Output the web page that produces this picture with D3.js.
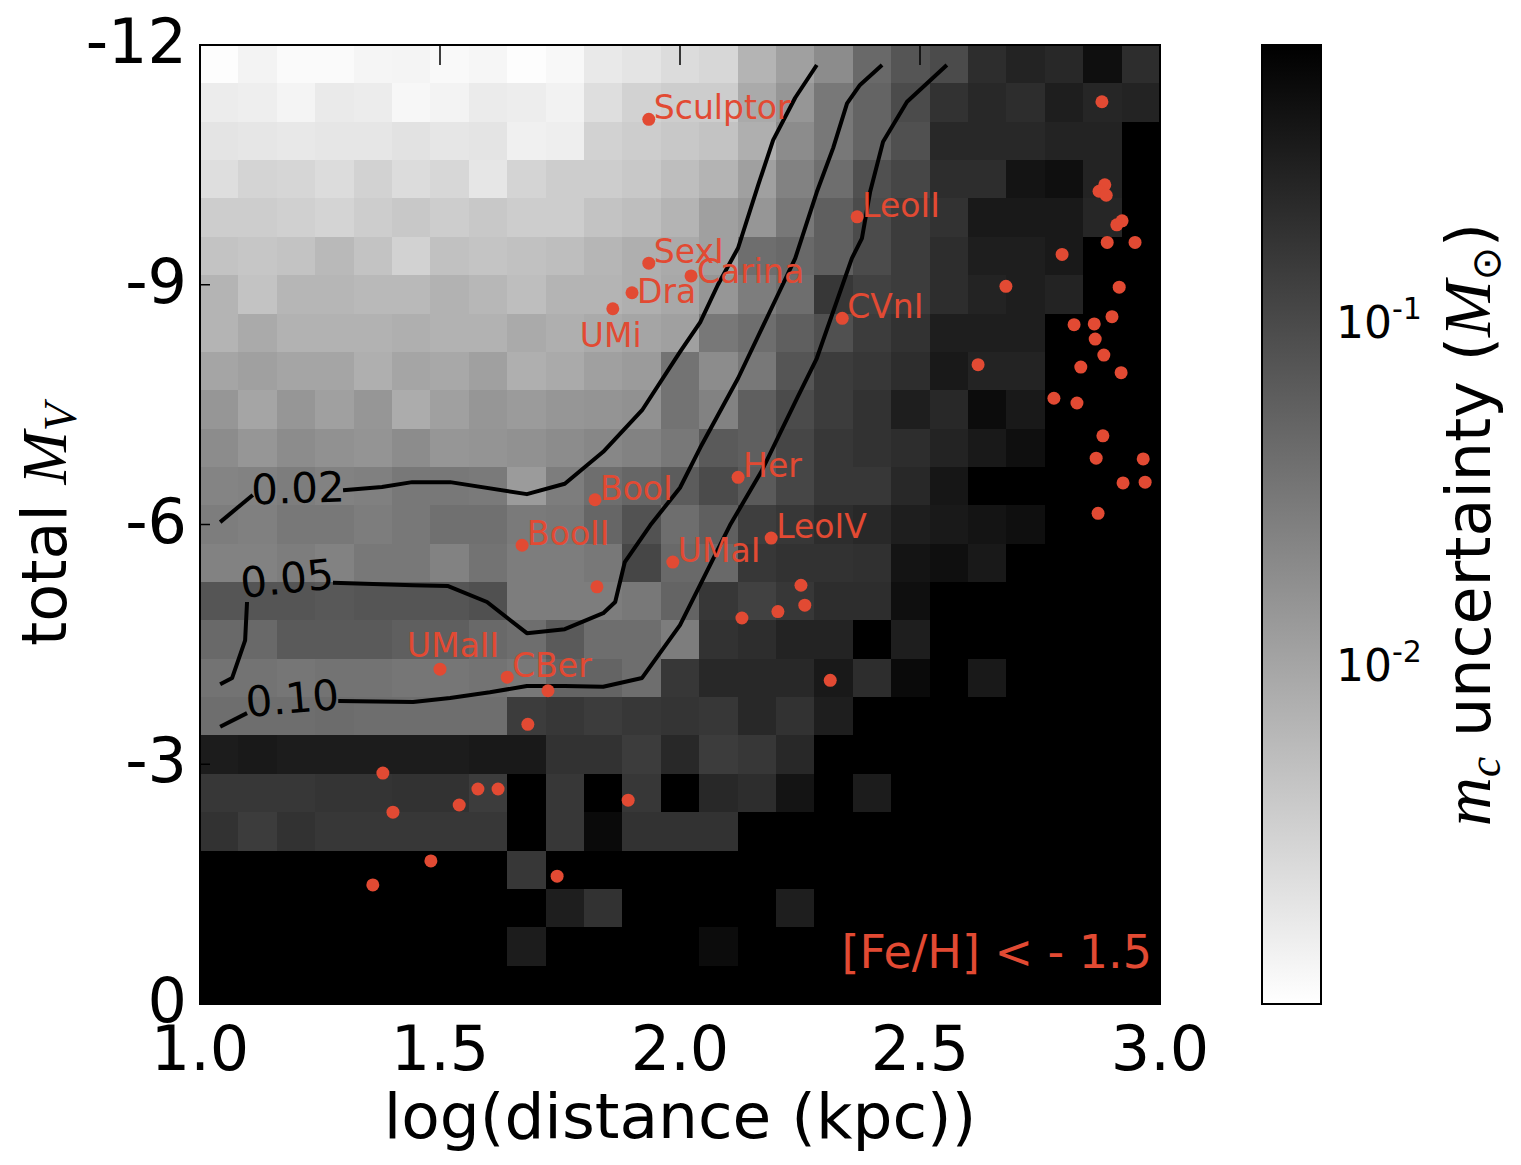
<!DOCTYPE html>
<html>
<head>
<meta charset="utf-8">
<script src="https://cdnjs.cloudflare.com/ajax/libs/d3/7.8.5/d3.min.js"></script>
<style>
body { margin: 0; background: #fff; }
text { font-family: 'DejaVu Sans', sans-serif; }
.math { font-family: 'Liberation Serif', 'DejaVu Serif', serif; font-style: italic; }
</style>
</head>
<body>
<div id="chart-area"></div>
<script>
var xTicks = [1.0, 1.5, 2.0, 2.5, 3.0]
var yTicks = [-12, -9, -6, -3, 0]
var cbarTicks = [0.01, 0.1]
var cbarTickLabels = [['10', '-2'], ['10', '-1']]

// bins of the 2d histogram
var xBinStart = 1.0, xBinWidth = 0.08, nX = 25
var yBinStart = -12, yBinHeight = 0.48, nY = 25

// colour limits of the map (m_c uncertainty, M_sun)
var vmin = 0.00103, vmax = 0.643

// log10(m_c uncertainty) per bin, rows from M_V = -12 (top) down to M_V = 0
var logUnc = [
	[-2.97,-2.86,-2.93,-2.93,-2.88,-2.87,-2.92,-2.89,-2.96,-2.91,-2.75,-2.69,-2.60,-2.55,-2.17,-1.95,-1.73,-1.34,-1.12,-1.01,-0.69,-0.58,-0.63,-0.36,-0.69],
	[-2.78,-2.80,-2.87,-2.76,-2.78,-2.90,-2.86,-2.77,-2.79,-2.85,-2.63,-2.49,-2.44,-2.44,-2.06,-1.84,-1.51,-1.29,-1.01,-0.74,-0.63,-0.69,-0.52,-0.61,-0.58],
	[-2.69,-2.71,-2.74,-2.71,-2.71,-2.67,-2.71,-2.69,-2.82,-2.80,-2.49,-2.44,-2.38,-2.33,-2.11,-1.73,-1.51,-1.29,-1.07,-0.63,-0.63,-0.63,-0.58,-0.58,-0.10],
	[-2.63,-2.52,-2.54,-2.60,-2.49,-2.60,-2.55,-2.71,-2.52,-2.44,-2.44,-2.38,-2.28,-2.17,-1.95,-1.62,-1.40,-1.07,-0.96,-0.69,-0.69,-0.41,-0.36,-0.58,-0.10],
	[-2.44,-2.44,-2.47,-2.52,-2.44,-2.38,-2.44,-2.38,-2.44,-2.44,-2.33,-2.28,-2.17,-1.95,-1.84,-1.51,-1.23,-1.01,-0.85,-0.74,-0.47,-0.47,-0.47,-0.61,-0.10],
	[-2.33,-2.36,-2.33,-2.22,-2.33,-2.49,-2.31,-2.34,-2.31,-2.28,-2.19,-2.11,-2.06,-1.95,-1.40,-1.34,-1.23,-1.01,-0.85,-0.69,-0.52,-0.52,-0.47,-0.10,-0.10],
	[-2.17,-2.33,-2.19,-2.19,-2.22,-2.22,-2.14,-2.20,-2.28,-2.17,-2.17,-2.11,-2.03,-1.84,-1.56,-1.40,-0.80,-0.90,-0.85,-0.69,-0.58,-0.52,-0.58,-0.10,-0.10],
	[-2.17,-2.06,-2.14,-2.14,-2.14,-2.11,-2.14,-2.14,-2.06,-2.11,-2.06,-2.00,-1.95,-1.51,-1.40,-1.23,-1.07,-0.85,-0.74,-0.52,-0.52,-0.52,-0.10,-0.10,-0.10],
	[-2.00,-1.95,-2.00,-2.00,-2.11,-2.00,-2.03,-1.95,-2.11,-2.06,-1.95,-1.89,-1.45,-1.73,-1.51,-1.12,-0.85,-0.80,-0.69,-0.47,-0.58,-0.58,-0.10,-0.10,-0.10],
	[-1.84,-2.00,-1.84,-1.95,-1.84,-2.08,-1.95,-1.84,-1.89,-1.84,-1.81,-1.78,-1.45,-1.62,-1.23,-1.01,-0.85,-0.74,-0.52,-0.63,-0.32,-0.47,-0.10,-0.10,-0.10],
	[-1.73,-1.84,-1.73,-1.78,-1.81,-1.73,-1.84,-1.81,-1.78,-1.73,-1.67,-1.62,-1.51,-1.18,-1.23,-0.96,-0.80,-0.74,-0.69,-0.58,-0.47,-0.36,-0.10,-0.10,-0.10],
	[-1.64,-1.62,-1.56,-1.62,-1.60,-1.51,-1.51,-1.53,-1.89,-1.56,-1.40,-1.31,-1.20,-1.01,-1.18,-0.96,-0.80,-0.80,-0.63,-0.43,-0.10,-0.10,-0.10,-0.10,-0.10],
	[-1.56,-1.60,-1.51,-1.51,-1.56,-1.51,-1.42,-1.42,-1.53,-1.51,-1.31,-1.09,-1.40,-1.23,-0.87,-0.80,-0.69,-0.63,-0.52,-0.47,-0.41,-0.36,-0.10,-0.10,-0.10],
	[-1.62,-1.62,-1.56,-1.62,-1.51,-1.51,-1.62,-1.45,-1.56,-1.56,-1.51,-0.96,-1.34,-1.34,-0.80,-0.74,-0.74,-0.72,-0.41,-0.36,-0.47,-0.10,-0.10,-0.10,-0.10],
	[-1.12,-1.12,-1.12,-1.16,-1.12,-1.12,-1.12,-1.07,-1.56,-1.56,-1.56,-1.51,-1.29,-0.80,-0.90,-0.80,-0.69,-0.69,-0.36,-0.10,-0.10,-0.10,-0.10,-0.10,-0.10],
	[-1.34,-1.34,-1.18,-1.18,-1.18,-1.23,-1.23,-1.34,-1.40,-1.18,-1.40,-1.40,-1.56,-0.74,-0.69,-0.58,-0.58,-0.10,-0.52,-0.10,-0.10,-0.10,-0.10,-0.10,-0.10],
	[-1.45,-1.45,-1.49,-1.45,-1.45,-1.49,-1.49,-1.45,-1.51,-1.29,-1.29,-1.40,-0.80,-0.63,-0.63,-0.63,-0.47,-0.69,-0.30,-0.10,-0.47,-0.10,-0.10,-0.10,-0.10],
	[-1.40,-1.40,-1.40,-1.38,-1.40,-1.40,-1.40,-1.40,-0.85,-0.80,-0.85,-0.80,-0.76,-0.80,-0.63,-0.74,-0.52,-0.10,-0.10,-0.10,-0.10,-0.10,-0.10,-0.10,-0.10],
	[-0.50,-0.47,-0.50,-0.50,-0.50,-0.50,-0.50,-0.47,-0.47,-0.74,-0.74,-0.85,-0.63,-0.85,-0.80,-0.63,-0.10,-0.10,-0.10,-0.10,-0.10,-0.10,-0.10,-0.10,-0.10],
	[-0.80,-0.80,-0.80,-0.76,-0.76,-0.74,-0.74,-0.85,-0.10,-0.80,-0.10,-0.80,-0.10,-0.63,-0.69,-0.41,-0.10,-0.50,-0.10,-0.10,-0.10,-0.10,-0.10,-0.10,-0.10],
	[-0.74,-0.85,-0.74,-0.80,-0.80,-0.80,-0.80,-0.80,-0.10,-0.80,-0.30,-0.74,-0.74,-0.74,-0.10,-0.10,-0.10,-0.10,-0.10,-0.10,-0.10,-0.10,-0.10,-0.10,-0.10],
	[-0.10,-0.10,-0.10,-0.10,-0.10,-0.10,-0.10,-0.10,-0.80,-0.10,-0.10,-0.10,-0.10,-0.10,-0.10,-0.10,-0.10,-0.10,-0.10,-0.10,-0.10,-0.10,-0.10,-0.10,-0.10],
	[-0.10,-0.10,-0.10,-0.10,-0.10,-0.10,-0.10,-0.10,-0.10,-0.52,-0.74,-0.10,-0.10,-0.10,-0.10,-0.52,-0.10,-0.10,-0.10,-0.10,-0.10,-0.10,-0.10,-0.10,-0.10],
	[-0.10,-0.10,-0.10,-0.10,-0.10,-0.10,-0.10,-0.10,-0.50,-0.10,-0.10,-0.10,-0.10,-0.32,-0.10,-0.10,-0.10,-0.10,-0.10,-0.10,-0.10,-0.10,-0.10,-0.10,-0.10],
	[-0.10,-0.10,-0.10,-0.10,-0.10,-0.10,-0.10,-0.10,-0.10,-0.10,-0.10,-0.10,-0.10,-0.10,-0.10,-0.10,-0.10,-0.10,-0.10,-0.10,-0.10,-0.10,-0.10,-0.10,-0.10]
]

// named dwarfs
var dwarfNames = ['Sculptor', 'SexI', 'Dra', 'UMi', 'Carina', 'LeoII', 'CVnI', 'Her', 'BooI', 'BooII', 'UMaI', 'LeoIV', 'UMaII', 'CBer']
var dwarfLogD = [1.935, 1.935, 1.900, 1.860, 2.023, 2.369, 2.338, 2.121, 1.823, 1.671, 1.985, 2.190, 1.500, 1.640]
var dwarfMv = [-11.07, -9.27, -8.90, -8.70, -9.11, -9.85, -8.58, -6.59, -6.31, -5.74, -5.53, -5.83, -4.19, -4.09]

// unnamed points
var otherLogD = [2.879, 2.885, 2.873, 2.888, 2.921, 2.910, 2.890, 2.948, 2.796, 2.679, 2.915, 2.900, 2.821, 2.863, 2.865, 2.621, 2.883, 2.835, 2.919, 2.779, 2.827, 2.881, 2.867, 2.965, 2.923, 2.969, 2.871,
	1.827, 1.725, 1.683, 1.381, 1.402, 1.579, 1.621, 1.540, 1.892, 1.481, 1.360, 1.744, 2.252, 2.260, 2.204, 2.129, 2.313]
var otherMv = [-11.29, -10.25, -10.17, -10.12, -9.80, -9.75, -9.53, -9.53, -9.38, -8.98, -8.97, -8.60, -8.50, -8.51, -8.32, -8.00, -8.12, -7.97, -7.90, -7.58, -7.52, -7.11, -6.83, -6.82, -6.52, -6.53, -6.14,
	-5.22, -3.92, -3.50, -2.89, -2.40, -2.69, -2.69, -2.49, -2.55, -1.79, -1.49, -1.60, -5.24, -4.99, -4.91, -4.83, -4.05]

// contour lines [logd, M_V], each split where the inline label sits
var contour02 = [
	[[1.042, -6.03], [1.110, -6.37]],
	[[1.298, -6.43], [1.379, -6.47], [1.442, -6.53], [1.521, -6.53], [1.681, -6.38], [1.760, -6.51], [1.840, -6.91], [1.921, -7.43], [2.000, -8.16], [2.042, -8.53], [2.079, -9.00], [2.121, -9.46], [2.163, -10.25], [2.194, -10.81], [2.240, -11.34], [2.285, -11.75]]
]
var contour05 = [
	[[1.042, -4.00], [1.067, -4.08], [1.094, -4.55], [1.098, -5.03]],
	[[1.277, -5.27], [1.444, -5.24], [1.517, -5.23], [1.598, -5.03], [1.681, -4.64], [1.760, -4.69], [1.840, -4.89], [1.865, -5.03], [1.885, -5.53], [1.938, -5.99], [2.000, -6.46], [2.042, -6.96], [2.121, -7.83], [2.202, -8.85], [2.240, -9.33], [2.285, -10.16], [2.319, -10.71], [2.348, -11.27], [2.375, -11.50], [2.421, -11.75]]
]
var contour10 = [
	[[1.042, -3.47], [1.098, -3.64]],
	[[1.288, -3.79], [1.444, -3.78], [1.521, -3.83], [1.604, -3.90], [1.681, -3.98], [1.760, -3.98], [1.840, -3.97], [1.921, -4.08], [2.000, -4.74], [2.104, -5.99], [2.171, -6.68], [2.244, -7.58], [2.285, -8.08], [2.358, -9.33], [2.379, -9.58], [2.396, -10.16], [2.423, -10.79], [2.473, -11.29], [2.556, -11.75]]
]
var contourLevels = ['0.02', '0.05', '0.10']
var contourLabelX = [1.204, 1.181, 1.192]
var contourLabelY = [-6.46, -5.33, -3.83]

var red = '#e24a33'
var margin = { top: 45, left: 200 }
var width = 960
var height = 959
var cbarX = 1262, cbarW = 59

var svg = d3.select('#chart-area').append('svg')
	.attr('width', 1521)
	.attr('height', 1165)
svg.append('rect').attr('width', 1521).attr('height', 1165).attr('fill', '#fff')

var g = svg.append('g').attr('transform', `translate(${margin.left}, ${margin.top})`)

var x = d3.scaleLinear().domain([1, 3]).range([0, width])
var y = d3.scaleLinear().domain([-12, 0]).range([0, height])
var color = d3.scaleLinear()
	.domain([Math.log10(vmin), Math.log10(vmax)])
	.range(['#ffffff', '#000000'])
	.clamp(true)

var xEdges = d3.range(nX + 1).map(k => xBinStart + k * xBinWidth)
var yEdges = d3.range(nY + 1).map(k => yBinStart + k * yBinHeight)

var cells = []
logUnc.forEach((row, i) => row.forEach((v, j) => cells.push({ i: i, j: j, v: v })))

g.selectAll('rect.cell').data(cells).enter()
	.append('rect')
		.attr('class', 'cell')
		.attr('x', d => x(xEdges[d.j]))
		.attr('y', d => y(yEdges[d.i]))
		.attr('width', d => x(xEdges[d.j + 1]) - x(xEdges[d.j]) + 0.6)
		.attr('height', d => y(yEdges[d.i + 1]) - y(yEdges[d.i]) + 0.6)
		.attr('fill', d => color(d.v))
		.attr('shape-rendering', 'crispEdges')

// contours
var line = d3.line().x(d => x(d[0])).y(d => y(d[1]))
var contours = [contour02, contour05, contour10]
contours.forEach(segs => {
	g.selectAll(null).data(segs).enter()
		.append('path')
			.attr('d', line)
			.attr('fill', 'none')
			.attr('stroke', '#000')
			.attr('stroke-width', 4)
			.attr('stroke-linejoin', 'round')
})

var contourRot = [-2, -6, -5]
contourLevels.forEach((lv, k) => {
	g.append('text')
		.attr('transform', `translate(${x(contourLabelX[k])}, ${y(contourLabelY[k])}) rotate(${contourRot[k]})`)
		.attr('text-anchor', 'middle')
		.attr('dy', '0.36em')
		.attr('font-size', '42px')
		.attr('fill', '#000')
		.text(lv)
})

// points
g.selectAll('circle.other').data(otherLogD).enter()
	.append('circle')
		.attr('class', 'other')
		.attr('cx', d => x(d))
		.attr('cy', (d, k) => y(otherMv[k]))
		.attr('r', 6.5)
		.attr('fill', red)

g.selectAll('circle.dwarf').data(dwarfNames).enter()
	.append('circle')
		.attr('class', 'dwarf')
		.attr('cx', (d, k) => x(dwarfLogD[k]))
		.attr('cy', (d, k) => y(dwarfMv[k]))
		.attr('r', 6.5)
		.attr('fill', red)

var labelShift = { UMi: [-33, 38], UMaII: [-33, -12], Carina: [6, 7], Dra: [5, 10] }
g.selectAll('text.dwarf').data(dwarfNames).enter()
	.append('text')
		.attr('class', 'dwarf')
		.attr('x', (d, k) => x(dwarfLogD[k]) + (labelShift[d] ? labelShift[d][0] : 5))
		.attr('y', (d, k) => y(dwarfMv[k]) + (labelShift[d] ? labelShift[d][1] : 0))
		.attr('font-size', '33px')
		.attr('fill', red)
		.text(d => d)

g.append('text')
	.attr('x', width - 8)
	.attr('y', height - 36)
	.attr('text-anchor', 'end')
	.attr('font-size', '46px')
	.attr('fill', red)
	.text('[Fe/H] < - 1.5')

// frame and inward ticks
g.append('rect')
	.attr('width', width).attr('height', height)
	.attr('fill', 'none').attr('stroke', '#000').attr('stroke-width', 2)

xTicks.forEach(t => {
	g.append('line').attr('x1', x(t)).attr('x2', x(t)).attr('y1', 0).attr('y2', 20).attr('stroke', '#000').attr('stroke-width', 1.5)
	g.append('line').attr('x1', x(t)).attr('x2', x(t)).attr('y1', height).attr('y2', height - 20).attr('stroke', '#000').attr('stroke-width', 1.5)
	g.append('text')
		.attr('x', x(t))
		.attr('y', height + 66)
		.attr('text-anchor', 'middle')
		.attr('font-size', '62px')
		.text(t.toFixed(1))
})
yTicks.forEach(t => {
	g.append('line').attr('x1', 0).attr('x2', 10).attr('y1', y(t)).attr('y2', y(t)).attr('stroke', '#000').attr('stroke-width', 1.5)
	g.append('line').attr('x1', width).attr('x2', width - 10).attr('y1', y(t)).attr('y2', y(t)).attr('stroke', '#000').attr('stroke-width', 1.5)
	g.append('text')
		.attr('x', -13)
		.attr('y', y(t) + 18)
		.attr('text-anchor', 'end')
		.attr('font-size', '62px')
		.text(String(t))
})

svg.append('text')
	.attr('x', margin.left + width / 2)
	.attr('y', 1138)
	.attr('text-anchor', 'middle')
	.attr('font-size', '63px')
	.text('log(distance (kpc))')

var yLabel = svg.append('text')
	.attr('transform', `translate(66, ${margin.top + height / 2}) rotate(-90)`)
	.attr('text-anchor', 'middle')
	.attr('font-size', '62px')
yLabel.append('tspan').text('total ')
yLabel.append('tspan').attr('class', 'math').attr('font-size', '64px').text('M')
yLabel.append('tspan').attr('class', 'math').attr('font-size', '46px').attr('dy', 10).text('V')

// colorbar
var defs = svg.append('defs')
var grad = defs.append('linearGradient').attr('id', 'cbar-grad')
	.attr('x1', 0).attr('y1', 1).attr('x2', 0).attr('y2', 0)
grad.append('stop').attr('offset', 0).attr('stop-color', color(Math.log10(vmin)))
grad.append('stop').attr('offset', 1).attr('stop-color', color(Math.log10(vmax)))

var cbar = d3.scaleLog().domain([vmin, vmax]).range([margin.top + height, margin.top])

svg.append('rect')
	.attr('x', cbarX).attr('y', margin.top)
	.attr('width', cbarW).attr('height', height)
	.attr('fill', 'url(#cbar-grad)')
	.attr('stroke', '#000').attr('stroke-width', 2)

cbarTicks.forEach((t, k) => {
	var lbl = svg.append('text')
		.attr('x', 1336)
		.attr('y', cbar(t) + 16)
		.attr('font-size', '44px')
	lbl.append('tspan').text(cbarTickLabels[k][0])
	lbl.append('tspan').attr('font-size', '30px').attr('dy', -19).text(cbarTickLabels[k][1])
})

var cLabel = svg.append('text')
	.attr('transform', `translate(1490, ${margin.top + height / 2}) rotate(-90)`)
	.attr('text-anchor', 'middle')
	.attr('font-size', '62px')
cLabel.append('tspan').attr('class', 'math').attr('font-size', '68px').text('m')
cLabel.append('tspan').attr('class', 'math').attr('font-size', '46px').attr('dy', 10).text('c')
cLabel.append('tspan').attr('dy', -10).text(' uncertainty (')
cLabel.append('tspan').attr('class', 'math').attr('font-size', '68px').text('M')
cLabel.append('tspan').attr('font-size', '40px').attr('dy', 10).text('\u2299')
cLabel.append('tspan').attr('dy', -10).text(')')
</script>
</body>
</html>
